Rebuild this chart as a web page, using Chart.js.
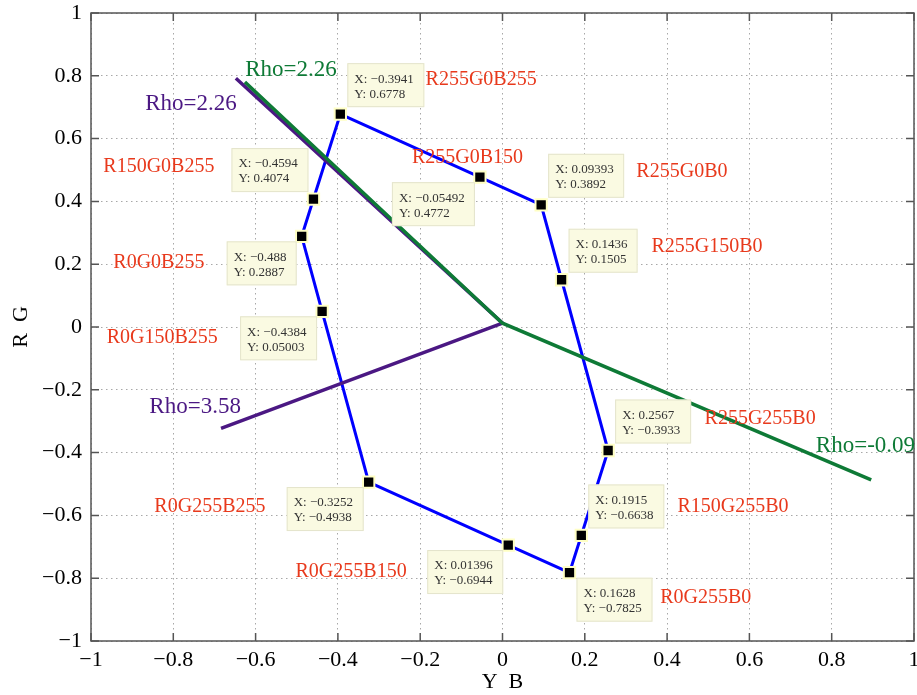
<!DOCTYPE html>
<html>
<head>
<meta charset="utf-8">
<title>Hue loop in Y-B / R-G plane</title>
<style>
  html, body { margin: 0; padding: 0; background: #fff; }
  #chart { display: block; }
</style>
<script src="https://cdn.jsdelivr.net/npm/chart.js@4.4.1/dist/chart.umd.min.js"></script>
</head>
<body>
<canvas id="chart" width="917" height="695"></canvas>
<script>
(function () {
  'use strict';

  // ===== data =====
  var xTicks = [-1, -0.8, -0.6, -0.4, -0.2, 0, 0.2, 0.4, 0.6, 0.8, 1];
  var yTicks = [-1, -0.8, -0.6, -0.4, -0.2, 0, 0.2, 0.4, 0.6, 0.8, 1];

  // hue loop, in drawing order (closed back to the first point)
  var pointX = [-0.3941, -0.05492, 0.09393, 0.1436, 0.2567, 0.1915, 0.1628, 0.01396, -0.3252, -0.4384, -0.488, -0.4594];
  var pointY = [0.6778, 0.4772, 0.3892, 0.1505, -0.3933, -0.6638, -0.7825, -0.6944, -0.4938, 0.05003, 0.2887, 0.4074];
  var colorNames = ['R255G0B255', 'R255G0B150', 'R255G0B0', 'R255G150B0', 'R255G255B0', 'R150G255B0',
                    'R0G255B0', 'R0G255B150', 'R0G255B255', 'R0G150B255', 'R0G0B255', 'R150G0B255'];

  // the two rho lines (start, corner, end)
  var rhoGreenX = [-0.626, 0, 0.896];
  var rhoGreenY = [0.78, 0.012, -0.487];
  var rhoPurpleX = [-0.648, 0, -0.684];
  var rhoPurpleY = [0.792, 0.012, -0.323];
  var rhoLabels = ['Rho=2.26', 'Rho=2.26', 'Rho=3.58', 'Rho=-0.09'];

  // ===== layout of the annotations (data units / pixel offsets) =====
  var nameAnchor = [[-0.052, 0.787], [-0.085, 0.538], [0.436, 0.494], [0.497, 0.255], [0.626, -0.293], [0.560, -0.573],
                    [0.494, -0.863], [-0.368, -0.780], [-0.711, -0.573], [-0.827, -0.035], [-0.835, 0.204], [-0.835, 0.510]];
  var tipSide = ['ne', 'sw', 'ne', 'ne', 'ne', 'ne', 'se', 'sw', 'sw', 'sw', 'sw', 'nw'];
  var rhoAnchor = [[-0.514, 0.818], [-0.757, 0.710], [-0.747, -0.255], [0.882, -0.379]];
  var rhoColor = ['#0E7A36', '#4B1883', '#4B1883', '#0E7A36'];

  var SERIF = "'Liberation Serif', 'Times New Roman', serif";
  var NAME_RED = '#E8391C';
  var FRAME = '#555555';

  function minus(s) { return String(s).replace('-', '\u2212'); }

  function tickText(v) {
    var r = Math.round(v * 10) / 10;
    return r === 0 ? '0' : minus(r);
  }

  function xy(xs, ys) {
    return xs.map(function (x, i) { return { x: x, y: ys[i] }; });
  }

  var loop = xy(pointX, pointY);
  loop.push({ x: pointX[0], y: pointY[0] });

  // frame box with inward ticks on all four sides
  var framePlugin = {
    id: 'frame',
    beforeDatasetsDraw: function (chart) {
      var ctx = chart.ctx, ca = chart.chartArea;
      var sx = chart.scales.x, sy = chart.scales.y;
      var tl = 8;
      ctx.save();
      ctx.strokeStyle = FRAME;
      ctx.lineWidth = 1.5;
      ctx.strokeRect(ca.left, ca.top, ca.right - ca.left, ca.bottom - ca.top);
      ctx.beginPath();
      xTicks.forEach(function (v) {
        var p = sx.getPixelForValue(v);
        ctx.moveTo(p, ca.bottom); ctx.lineTo(p, ca.bottom - tl);
        ctx.moveTo(p, ca.top); ctx.lineTo(p, ca.top + tl);
      });
      yTicks.forEach(function (v) {
        var p = sy.getPixelForValue(v);
        ctx.moveTo(ca.left, p); ctx.lineTo(ca.left + tl, p);
        ctx.moveTo(ca.right, p); ctx.lineTo(ca.right - tl, p);
      });
      ctx.stroke();
      ctx.restore();
    }
  };

  // datatip boxes, colour names and rho labels
  var notesPlugin = {
    id: 'notes',
    afterDatasetsDraw: function (chart) {
      var ctx = chart.ctx;
      var sx = chart.scales.x, sy = chart.scales.y;
      ctx.save();

      ctx.font = '13px ' + SERIF;
      ctx.textBaseline = 'middle';
      ctx.textAlign = 'left';
      pointX.forEach(function (x, i) {
        var px = sx.getPixelForValue(x), py = sy.getPixelForValue(pointY[i]);
        var l1 = 'X: ' + minus(x), l2 = 'Y: ' + minus(pointY[i]);
        var w = Math.ceil(Math.max(ctx.measureText(l1).width, ctx.measureText(l2).width)) + 17;
        var h = 44;
        var side = tipSide[i];
        var bx = side.charAt(1) === 'e' ? px + 7 : px - 5 - w;
        var by = side.charAt(0) === 'n' ? py - 7 - h : py + 5;
        ctx.fillStyle = '#FAFAE2';
        ctx.fillRect(bx, by, w, h);
        ctx.strokeStyle = '#E4E4CC';
        ctx.lineWidth = 1;
        ctx.strokeRect(bx + 0.5, by + 0.5, w - 1, h - 1);
        ctx.fillStyle = '#333333';
        ctx.fillText(l1, bx + 7, by + 16);
        ctx.fillText(l2, bx + 7, by + 31);
      });

      ctx.textAlign = 'center';
      ctx.font = '20px ' + SERIF;
      ctx.fillStyle = NAME_RED;
      colorNames.forEach(function (name, i) {
        ctx.fillText(name, sx.getPixelForValue(nameAnchor[i][0]), sy.getPixelForValue(nameAnchor[i][1]));
      });

      ctx.font = '23px ' + SERIF;
      rhoLabels.forEach(function (t, i) {
        ctx.fillStyle = rhoColor[i];
        ctx.fillText(t, sx.getPixelForValue(rhoAnchor[i][0]), sy.getPixelForValue(rhoAnchor[i][1]));
      });
      ctx.restore();
    }
  };

  var tickFont = { family: SERIF, size: 22 };
  var gridOpts = { color: '#A8A8A8', lineWidth: 1, drawTicks: false };
  var borderOpts = { display: false, dash: [1.5, 3.5] };

  new Chart(document.getElementById('chart').getContext('2d'), {
    type: 'scatter',
    data: {
      datasets: [
        {
          label: 'rho green', data: xy(rhoGreenX, rhoGreenY), showLine: true,
          borderColor: rhoColor[0], borderWidth: 3.5, pointRadius: 0, order: 1
        },
        {
          label: 'rho purple', data: xy(rhoPurpleX, rhoPurpleY), showLine: true,
          borderColor: rhoColor[1], borderWidth: 3.5, pointRadius: 0, order: 2
        },
        {
          label: 'markers', data: xy(pointX, pointY), showLine: false,
          pointStyle: 'rect', pointRadius: 8, backgroundColor: '#000000',
          borderColor: '#FFFFC4', borderWidth: 2, order: 0
        },
        {
          label: 'hue loop', data: loop, showLine: true,
          borderColor: '#0000FF', borderWidth: 3, pointRadius: 0, order: 3
        }
      ]
    },
    options: {
      responsive: false, animation: false,
      layout: { autoPadding: false, padding: { left: 0, right: 3, top: 13, bottom: 0 } },
      plugins: { legend: { display: false }, tooltip: { enabled: false } },
      events: [],
      scales: {
        x: {
          type: 'linear', min: -1, max: 1,
          afterBuildTicks: function (axis) { axis.ticks = xTicks.map(function (v) { return { value: v }; }); },
          afterFit: function (axis) { axis.height = 54; axis.paddingLeft = 0; axis.paddingRight = 0; },
          grid: gridOpts, border: borderOpts,
          ticks: { autoSkip: false, maxRotation: 0, padding: 6, color: '#000', font: tickFont, callback: tickText },
          title: { display: true, text: 'Y  B', color: '#000', font: tickFont, padding: { top: 0, bottom: 0 } }
        },
        y: {
          type: 'linear', min: -1, max: 1,
          afterBuildTicks: function (axis) { axis.ticks = yTicks.map(function (v) { return { value: v }; }); },
          afterFit: function (axis) { axis.width = 91; axis.paddingTop = 0; axis.paddingBottom = 0; },
          grid: gridOpts, border: borderOpts,
          ticks: { autoSkip: false, padding: 9, color: '#000', font: tickFont, callback: tickText },
          title: { display: true, text: 'R  G', color: '#000', font: tickFont, padding: { top: 8, bottom: 0 } }
        }
      }
    },
    plugins: [framePlugin, notesPlugin]
  });
})();
</script>
</body>
</html>
